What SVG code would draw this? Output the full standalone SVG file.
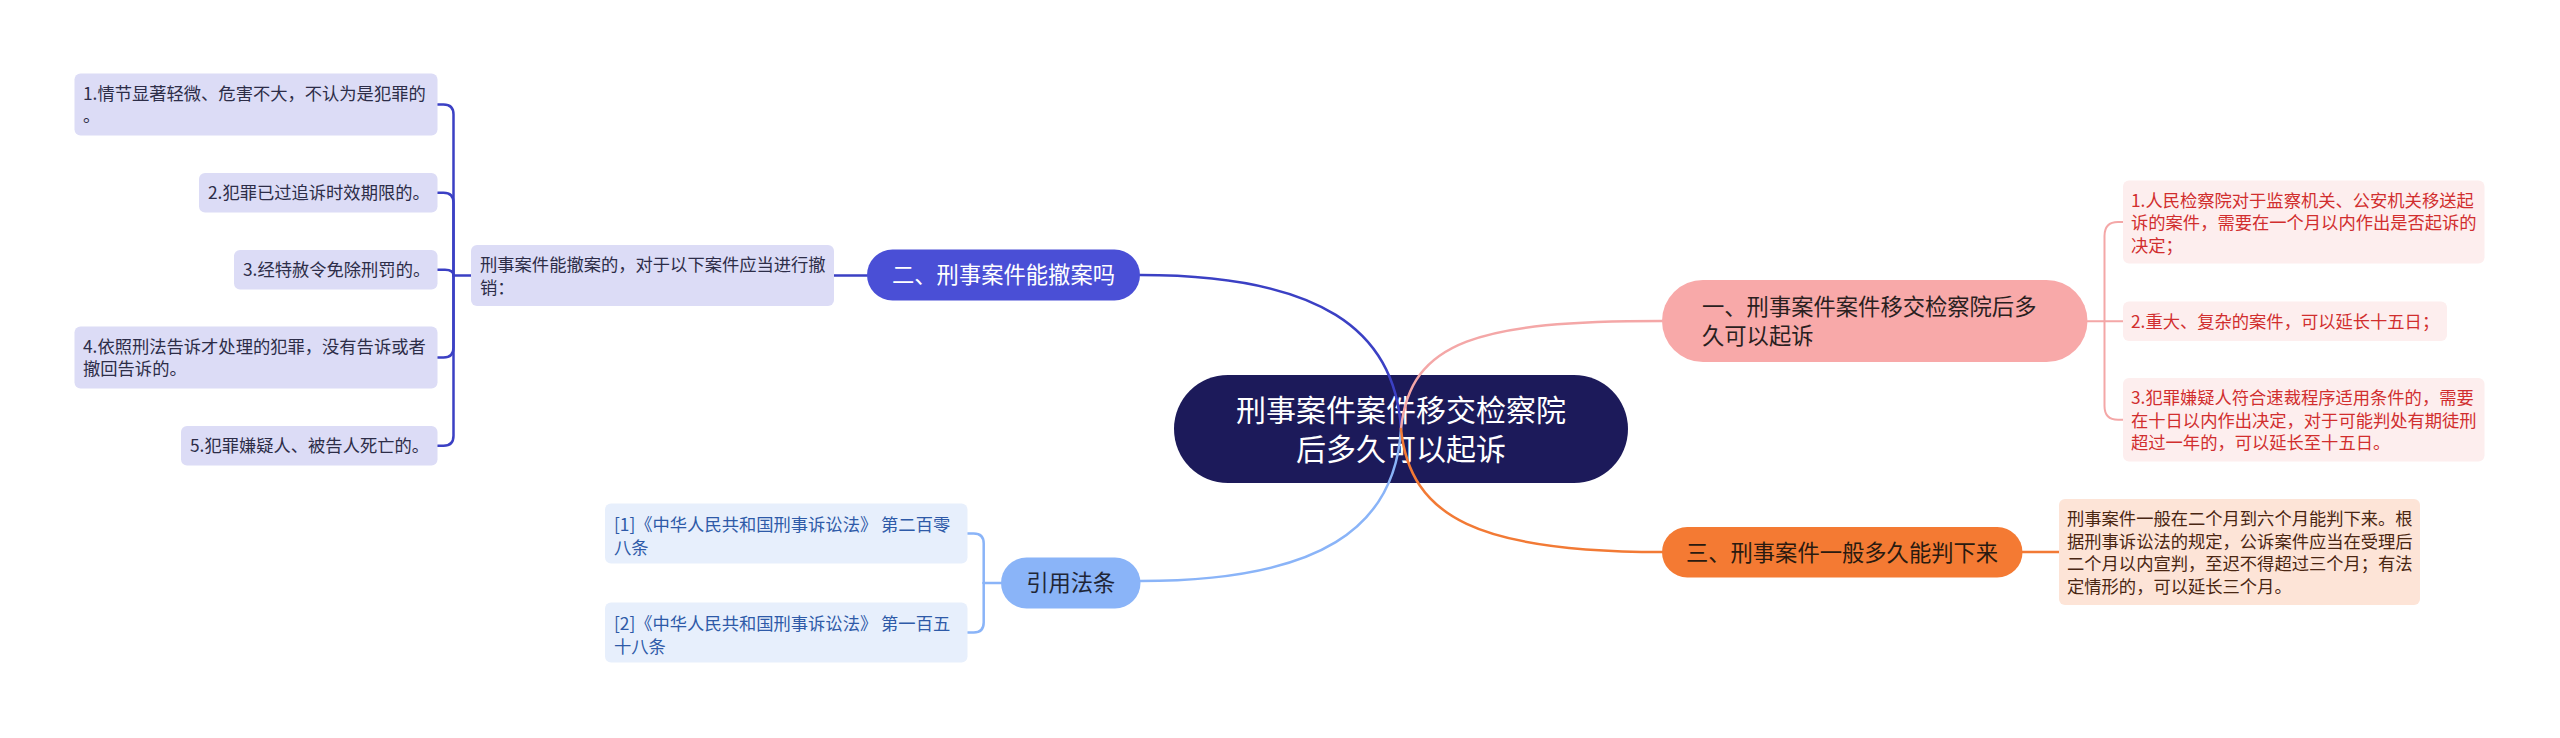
<svg xmlns="http://www.w3.org/2000/svg" width="2560" height="738" viewBox="0 0 2560 738">
<style>
text{font-family:"Noto Sans CJK SC","Noto Sans",sans-serif}
.s{font-size:17.3px}
.m{font-size:22.3px}
.c{font-size:30px;fill:#ffffff;text-anchor:middle}
.ln{fill:none;stroke-width:2.5;stroke-linecap:round}
.bl{stroke:#3b40c4}
.lb{stroke:#8ab4f8}
.pk{stroke:#f4a7a7}
.or{stroke:#f27a35}
.lav{fill:#dcdcf6}
.lavt{fill:#2d2d48}
.red{fill:#fdeeee}
.redt{fill:#d12e2e}
.pea{fill:#fde4d7}
.peat{fill:#4a2612}
.sky{fill:#e7effc}
.skyt{fill:#2e5aa8}
</style>
<rect width="2560" height="738" fill="#ffffff"/>
<g id="center">
<rect x="1174" y="375" width="454" height="108" rx="54" fill="#1c1a5a"/>
<text class="c" x="1401" y="421">刑事案件案件移交检察院</text>
<text class="c" x="1401" y="460">后多久可以起诉</text>
</g>
<g id="connectors">
<path class="ln bl" d="M1401,429 C1395,330 1320,275 1140,275"/>
<path class="ln lb" d="M1401,429 C1395,528 1320,581 1140,581"/>
<path class="ln pk" d="M1401,429 C1410,340 1480,321 1662,321"/>
<path class="ln or" d="M1401,429 C1410,518 1480,552 1662,552"/>
<path class="ln bl" d="M834,275.5 H867"/>
<path class="ln bl" d="M471,275.5 H453.5"/>
<path class="ln bl" d="M453.5,275.5 V114.5 Q453.5,104.5 443.5,104.5 H437.5"/>
<path class="ln bl" d="M453.5,275.5 V202.75 Q453.5,192.75 443.5,192.75 H437.5"/>
<path class="ln bl" d="M453.5,275.5 C453.5,271.5 450.5,269.75 445,269.75 H437.5"/>
<path class="ln bl" d="M453.5,275.5 V347.5 Q453.5,357.5 443.5,357.5 H437.5"/>
<path class="ln bl" d="M453.5,275.5 V435.75 Q453.5,445.75 443.5,445.75 H437.5"/>
<path class="ln lb" d="M1001,583 H983.7"/>
<path class="ln lb" d="M983.7,583 V543.5 Q983.7,533.5 973.7,533.5 H967.5"/>
<path class="ln lb" d="M983.7,583 V622.5 Q983.7,632.5 973.7,632.5 H967.5"/>
<path class="ln pk" style="stroke-width:2" d="M2087.5,321.25 H2123"/>
<path class="ln pk" style="stroke-width:2" d="M2104.5,321.25 V236 Q2104.5,222 2118,222 H2123"/>
<path class="ln pk" style="stroke-width:2" d="M2104.5,321.25 V406 Q2104.5,419.75 2118,419.75 H2123"/>
<path class="ln or" d="M2022.5,552 H2059"/>
</g>
<g id="n2">
<rect x="867" y="249.5" width="273" height="51" rx="25.5" fill="#4a4fd6"/>
<text class="m" x="1003.5" y="283" fill="#ffffff" text-anchor="middle">二、刑事案件能撤案吗</text>
</g>
<g id="n2-desc">
<rect class="lav" x="471" y="245" width="363" height="61" rx="6"/>
<text class="s lavt" x="480" y="271">刑事案件能撤案的，对于以下案件应当进行撤</text>
<text class="s lavt" x="480" y="293.5">销：</text>
</g>
<g id="n2-1">
<rect class="lav" x="74.5" y="73.5" width="363" height="62" rx="6"/>
<text class="s lavt" x="83" y="99.5">1.情节显著轻微、危害不大，不认为是犯罪的</text>
<text class="s lavt" x="83" y="122">。</text>
</g>
<g id="n2-2">
<rect class="lav" x="199" y="173" width="238.5" height="39.5" rx="6"/>
<text class="s lavt" x="208" y="199">2.犯罪已过追诉时效期限的。</text>
</g>
<g id="n2-3">
<rect class="lav" x="234" y="250" width="203.5" height="39.5" rx="6"/>
<text class="s lavt" x="243" y="276">3.经特赦令免除刑罚的。</text>
</g>
<g id="n2-4">
<rect class="lav" x="74.5" y="326.5" width="363" height="62" rx="6"/>
<text class="s lavt" x="83" y="352.5">4.依照刑法告诉才处理的犯罪，没有告诉或者</text>
<text class="s lavt" x="83" y="375">撤回告诉的。</text>
</g>
<g id="n2-5">
<rect class="lav" x="181" y="426" width="256.5" height="39.5" rx="6"/>
<text class="s lavt" x="190" y="452">5.犯罪嫌疑人、被告人死亡的。</text>
</g>
<g id="n1">
<rect x="1662" y="280" width="425.5" height="82" rx="41" fill="#f8a9a9"/>
<text class="m" x="1702" y="314.5" fill="#2a1f1f">一、刑事案件案件移交检察院后多</text>
<text class="m" x="1702" y="343.5" fill="#2a1f1f">久可以起诉</text>
</g>
<g id="n1-1">
<rect class="red" x="2123" y="180.5" width="361.5" height="83" rx="6"/>
<text class="s redt" x="2131" y="206.5">1.人民检察院对于监察机关、公安机关移送起</text>
<text class="s redt" x="2131" y="229">诉的案件，需要在一个月以内作出是否起诉的</text>
<text class="s redt" x="2131" y="251.5">决定；</text>
</g>
<g id="n1-2">
<rect class="red" x="2123" y="301.5" width="324" height="39.5" rx="6"/>
<text class="s redt" x="2131" y="327.5">2.重大、复杂的案件，可以延长十五日；</text>
</g>
<g id="n1-3">
<rect class="red" x="2123" y="378" width="361.5" height="83.5" rx="6"/>
<text class="s redt" x="2131" y="404">3.犯罪嫌疑人符合速裁程序适用条件的，需要</text>
<text class="s redt" x="2131" y="426.5">在十日以内作出决定，对于可能判处有期徒刑</text>
<text class="s redt" x="2131" y="449">超过一年的，可以延长至十五日。</text>
</g>
<g id="n3">
<rect x="1662" y="527" width="360.5" height="50.5" rx="25.25" fill="#f47a33"/>
<text class="m" x="1842" y="560.5" fill="#2a1a10" text-anchor="middle">三、刑事案件一般多久能判下来</text>
</g>
<g id="n3-1">
<rect class="pea" x="2059" y="499" width="361" height="106" rx="6"/>
<text class="s peat" x="2067" y="525">刑事案件一般在二个月到六个月能判下来。根</text>
<text class="s peat" x="2067" y="547.5">据刑事诉讼法的规定，公诉案件应当在受理后</text>
<text class="s peat" x="2067" y="570">二个月以内宣判，至迟不得超过三个月；有法</text>
<text class="s peat" x="2067" y="592.5">定情形的，可以延长三个月。</text>
</g>
<g id="n4">
<rect x="1001" y="557.5" width="139.5" height="51" rx="25.5" fill="#8ab4f8"/>
<text class="m" x="1070.75" y="591" fill="#1f2637" text-anchor="middle">引用法条</text>
</g>
<g id="n4-1">
<rect class="sky" x="605" y="503.5" width="362.5" height="60" rx="6"/>
<text class="s skyt" x="614" y="531">[1]《中华人民共和国刑事诉讼法》 第二百零</text>
<text class="s skyt" x="614" y="553.5">八条</text>
</g>
<g id="n4-2">
<rect class="sky" x="605" y="602.5" width="362.5" height="60" rx="6"/>
<text class="s skyt" x="614" y="630">[2]《中华人民共和国刑事诉讼法》 第一百五</text>
<text class="s skyt" x="614" y="652.5">十八条</text>
</g>
</svg>
